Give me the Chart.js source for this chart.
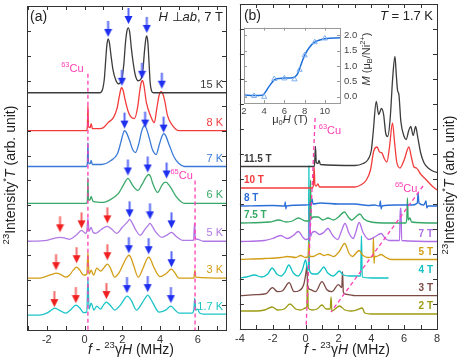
<!DOCTYPE html>
<html>
<head>
<meta charset="utf-8">
<script src="https://cdn.jsdelivr.net/npm/chart.js@4.4.1/dist/chart.umd.min.js"></script>
<style>
  html, body { margin: 0; padding: 0; background: #fff; }
  #wrap { position: relative; width: 463px; height: 364px; overflow: hidden; }
  canvas { position: absolute; }
</style>
</head>
<body>
<div id="wrap">
  <canvas id="ca" width="232" height="364" style="left:0;top:0;width:232px;height:364px"></canvas>
  <canvas id="cb" width="231" height="364" style="left:232px;top:0;width:231px;height:364px"></canvas>
  <canvas id="ci" width="148" height="110" style="left:236px;top:18px;width:148px;height:110px"></canvas>
</div>
<script>
// ---- panel (a): H perp ab, 7 T, temperature series ----
// each trace: [f - 23gH (MHz), intensity above its baseline]
var namesA = ["15 K", "8 K", "7 K", "6 K", "5 K", "3 K", "1.7 K"];
var baseA = [225, 187, 151, 114, 76, 39, 2];
var a15K = [[-3.05,0],[0.8,0],[0.95,3],[1.05,14],[1.12,32],[1.18,47],[1.25,54],[1.32,50],[1.4,38],[1.5,24],[1.65,13],[1.8,9],[1.95,12],[2.08,28],[2.17,50],[2.25,62],[2.32,65],[2.4,60],[2.48,45],[2.58,30],[2.7,17],[2.85,12],[3.0,14],[3.1,24],[3.18,42],[3.25,54],[3.3,57],[3.36,50],[3.42,30],[3.48,10],[3.55,2],[3.65,0],[7.5,0]];
var a8K = [[-3.05,0],[0.1,0],[0.15,4],[0.18,25],[0.21,4],[0.3,3],[0.35,7],[0.42,2],[0.8,2],[1.0,3],[1.25,8],[1.53,13],[1.72,22],[1.85,35],[1.93,42],[1.98,43],[2.05,40],[2.15,31],[2.3,20],[2.45,14],[2.65,12],[2.82,24],[2.93,40],[3.02,49],[3.08,50],[3.16,44],[3.28,28],[3.5,15],[3.7,8],[3.83,22],[3.95,35],[4.05,39],[4.15,37],[4.25,30],[4.4,15],[4.67,5],[5.0,0],[7.5,0]];
var a7K = [[-3.05,0],[0.1,0],[0.15,3],[0.18,24],[0.21,3],[0.3,3],[0.35,6],[0.42,2],[0.9,2],[1.4,6],[1.75,13],[1.92,24],[2.03,32],[2.12,36],[2.22,34],[2.39,26],[2.55,17],[2.7,14],[2.88,23],[3.02,35],[3.12,40],[3.2,41],[3.3,37],[3.44,28],[3.6,17],[3.8,12],[3.95,21],[4.1,30],[4.2,33],[4.3,31],[4.5,21],[4.76,9],[5.0,3],[5.3,0],[7.5,0]];
var a6K = [[-3.05,0],[0.1,0],[0.15,3],[0.18,26],[0.21,3],[0.3,4],[0.35,7],[0.45,2],[1.0,1],[1.3,3],[1.8,10],[2.05,18],[2.2,23],[2.3,25],[2.4,23],[2.55,18],[2.82,13],[3.05,19],[3.25,26],[3.4,29],[3.5,27],[3.6,21],[3.88,11],[4.1,18],[4.25,21],[4.35,21],[4.45,19],[4.6,15],[4.85,7],[5.1,2],[5.3,0],[7.5,0]];
var a5K = [[-3.05,0],[-2.0,1],[-1.6,3],[-1.3,4],[-1.0,3],[-0.8,2],[-0.45,6],[-0.15,11],[0.05,8],[0.12,10],[0.18,23],[0.24,10],[0.35,14],[0.45,9],[0.6,8],[0.9,12],[1.2,15],[1.45,12],[1.7,8],[2.0,14],[2.3,20],[2.39,22],[2.48,20],[2.7,12],[2.95,6],[3.2,12],[3.38,16],[3.47,18],[3.56,16],[3.75,10],[4.1,4],[4.35,6],[4.61,9],[4.85,5],[5.2,1],[5.78,1],[5.83,18],[5.88,3],[6.0,2],[6.3,0],[7.5,0]];
var a3K = [[-3.05,0],[-2.4,0],[-2.0,2],[-1.7,4],[-1.5,5],[-1.3,4],[-1.0,1],[-0.8,3],[-0.6,8],[-0.42,11],[-0.25,8],[-0.05,3],[0.12,4],[0.18,26],[0.24,4],[0.35,8],[0.48,3],[0.65,10],[0.85,7],[1.05,11],[1.21,14],[1.35,11],[1.6,1],[1.85,6],[2.1,16],[2.25,21],[2.35,23],[2.45,21],[2.6,13],[2.85,1],[3.1,10],[3.3,19],[3.4,21],[3.5,19],[3.65,12],[4.0,1.5],[4.35,5],[4.61,9],[4.8,5],[5.0,0],[5.8,0],[5.85,8],[5.9,1],[7.5,0]];
var a17K = [[-3.05,0],[-2.4,0],[-2.0,2],[-1.75,5],[-1.58,7],[-1.35,5],[-1.0,2],[-0.75,5],[-0.46,10],[-0.25,7],[-0.05,2.5],[0.12,3],[0.18,37],[0.24,6],[0.35,12],[0.5,5],[0.65,9],[0.85,6],[1.0,10],[1.16,13],[1.35,10],[1.6,5],[1.9,10],[2.15,17],[2.25,19],[2.35,18],[2.5,14],[2.75,5],[3.05,12],[3.25,18],[3.35,20],[3.45,18],[3.6,13],[3.95,3],[4.3,5],[4.58,9],[4.8,5],[5.0,2],[5.7,2],[5.8,6],[5.84,17],[5.9,5],[6.0,6],[6.1,2],[6.3,1],[7.5,1]];
var dataA = [a15K, a8K, a7K, a6K, a5K, a3K, a17K];
var colorsA = ["#3c3c3c", "#f23c3c", "#3a7ad6", "#3aa868", "#b07ae6", "#d29e16", "#1cc4c8"];
// arrow tips [x, y]
var blueArrowsA = [[1.25,281],[2.33,294],[3.3,285],[1.98,232],[3.05,239],[4.1,229],[2.12,189],[3.21,190],[4.19,185],[2.3,142],[3.35,145],[4.35,139],[2.39,100],[3.47,98],[4.61,89],[2.35,64],[3.4,63],[4.61,50],[2.25,24],[3.35,25],[4.58,14]];
var redArrowsA = [[-1.3,85],[-0.16,89],[1.21,94],[-1.51,47],[-0.42,54],[1.21,57],[-1.6,10],[-0.46,14],[1.16,18]];
var cu63A = [[0.18,244],[0.18,-13]];
var cu65A = [[5.86,137],[5.86,-13]];

// ---- panel (b): T = 1.7 K, field series ----
var namesB = ["11.5 T", "10 T", "8 T", "7.5 T", "7 T", "5 T", "4 T", "3 T", "2 T"];
var baseB = [150.5, 129, 111, 94, 75.5, 57.5, 39, 21.3, 3];
var b115T = [[-4,0],[0.5,0],[0.55,3],[0.6,20],[0.65,4],[0.75,3],[0.82,6],[0.9,2],[3.0,1],[3.5,3],[3.8,7],[4.0,16],[4.12,35],[4.3,65],[4.45,52],[4.62,58],[4.75,52],[4.88,33],[5.0,30],[5.15,48],[5.3,88],[5.44,110],[5.52,92],[5.6,76],[5.68,72],[5.8,45],[6.0,30],[6.12,27],[6.28,36],[6.4,40],[6.55,31],[6.7,40],[6.82,30],[7.0,14],[7.2,4],[7.5,-2],[7.8,-5],[8,-6]];
var b10T = [[-4,0],[0.42,0],[0.47,3],[0.52,21],[0.57,3],[0.65,2],[0.75,4],[0.85,1],[3.0,1],[3.35,3],[3.7,8],[3.95,18],[4.15,37],[4.35,41],[4.5,36],[4.65,35],[4.8,29],[4.95,26],[5.1,40],[5.29,65],[5.42,45],[5.55,26],[5.75,20],[6.0,28],[6.29,41],[6.45,30],[6.6,21],[6.75,20],[7.0,14],[7.35,8],[7.7,2],[8,-2]];
var b8T = [[-4,0],[-2,0.5],[-1.28,0],[-1.24,4],[-1.2,-3],[-1.16,0],[0,1],[0.35,2],[0.4,7],[0.45,2],[0.9,3],[2,2],[3,2],[3.8,0.5],[4.2,1],[4.5,0],[4.55,5],[4.6,-3],[4.65,0],[5.5,1],[6.5,1],[6.8,3],[6.85,13],[6.9,3],[7.2,1],[7.33,5],[7.38,-2],[7.45,0],[8,0]];
var b75T = [[-4,0],[-2.2,1],[-1.63,3],[-1.2,1],[-0.8,2],[-0.44,5],[0,2],[0.22,2],[0.26,3],[0.3,43],[0.34,4],[0.45,6],[0.76,6],[1.05,3],[1.36,5],[1.7,3],[2.0,6],[2.36,11],[2.6,6],[2.8,3],[3.05,6],[3.3,9],[3.55,4],[4.0,1],[5,0],[6.1,0],[6.16,4],[6.2,25],[6.25,3],[6.35,5],[6.45,1],[8,0]];
var b7T = [[-4,0],[-2.5,1],[-2.0,3],[-1.53,6],[-1.1,3],[-0.75,6],[-0.44,10],[-0.15,4],[0,2],[0.2,3],[0.25,40],[0.3,5],[0.4,9],[0.56,10],[0.85,7],[1.1,9],[1.36,13],[1.65,6],[1.96,2],[2.15,9],[2.4,18],[2.65,8],[2.9,3],[3.05,9],[3.26,19],[3.5,9],[3.86,2],[4.25,5],[4.6,8],[4.85,3],[5.1,1],[5.72,1],[5.76,33],[5.81,33],[5.85,1],[8,0]];
var b5T = [[-4,0],[-2.5,1],[-1.5,2],[-1.1,3],[-0.6,2],[-0.3,4],[0,2],[0.15,3],[0.2,18],[0.25,3],[0.45,3],[0.86,6],[1.1,4],[1.36,5],[1.7,3],[2.05,8],[2.38,16],[2.65,6],[2.85,3],[3.05,6],[3.25,9],[3.5,4],[3.8,2],[4.1,3],[4.13,22],[4.17,-4],[4.2,3],[4.3,3],[4.6,5],[4.9,2],[5.2,0],[8,0]];
var b4T = [[-4,0],[-3.6,1],[-3.1,3],[-2.7,1],[-2.3,4],[-2.04,10],[-1.75,4],[-1.5,2],[-1.25,6],[-1.02,13],[-0.75,5],[-0.45,2],[-0.2,8],[0.0,18],[0.12,8],[0.17,8],[0.2,112],[0.23,8],[0.45,4],[0.7,4],[0.9,7],[1.1,11],[1.35,5],[1.7,2],[1.85,4],[2.05,7],[2.3,3],[2.7,2],[3.0,2],[3.35,2],[3.4,42],[3.45,1],[4.0,0],[5.05,0]];
var b3T = [[-4,0],[-3,1],[-2.4,2],[-2.02,8],[-1.7,4],[-1.4,5],[-1.0,13],[-0.7,4],[-0.4,5],[-0.1,12],[0.02,23],[0.08,30],[0.12,10],[0.3,6],[0.6,4],[1.0,14],[1.3,6],[1.6,4],[2.0,11],[2.2,8],[2.25,24],[2.3,3],[2.6,1],[3,0],[8,0]];
var b2T = [[-4,3],[-3,3],[-2.5,4],[-2.04,7],[-1.7,4],[-1.3,5],[-0.95,10],[-0.6,5],[-0.3,4],[0.0,6],[0.08,8],[0.1,29],[0.13,30],[0.16,6],[0.4,4],[0.7,5],[1.0,9],[1.25,5],[1.5,5],[1.55,17],[1.6,3],[1.8,5],[2.06,8],[2.4,4],[2.76,3],[3.1,4],[3.45,6],[3.6,1],[4,0],[8,0]];
var dataB = [b115T, b10T, b8T, b75T, b7T, b5T, b4T, b3T, b2T];
var colorsB = ["#3c3c3c", "#f23c3c", "#2b6fd8", "#34a865", "#b06ee6", "#d29e16", "#12c2c4", "#7b4a44", "#9c9a12"];
var labelLeftB = [true, true, true, true, false, false, false, false, false];
var cu63B = [[0.58,199],[0.03,-10]];
var cu65B = [[7.15,131],[1.55,5]];

// ---- inset: magnetization M (muB/Ni2+) vs mu0H (T) ----
var fieldM = [2, 3, 4, 5, 6, 7, 7.5, 8, 9, 10];
var momentM = [0.05, 0.03, 0.0, 0.58, 0.6, 0.57, 0.88, 1.35, 1.78, 1.9];
var fieldFit = [2, 3, 3.8, 4.5, 5, 5.5, 6, 6.8, 7.3, 7.7, 8, 8.5, 9, 10, 11.5];
var momentFit = [0.06, 0.04, 0.05, 0.35, 0.55, 0.6, 0.61, 0.62, 0.75, 1.1, 1.35, 1.62, 1.78, 1.89, 1.92];

var PINK = "#ff3db4";
var FONT = '"Liberation Sans", Arial, sans-serif';

function fontFor(p, size) {
  var s = (p.sup || p.sub) ? size * 0.68 : size;
  return (p.it ? "italic " : "") + (p.b ? "bold " : "") + s + "px " + FONT;
}

// draw a run of text parts (italic / superscript / subscript)
function richText(ctx, parts, x, y, size, align, color) {
  var w = 0;
  parts.forEach(function (p) {
    ctx.font = fontFor(p, size);
    p.w = ctx.measureText(p.t).width;
    w += p.w;
  });
  var cx = align === "center" ? x - w / 2 : align === "right" ? x - w : x;
  ctx.textAlign = "left";
  ctx.textBaseline = "middle";
  ctx.fillStyle = color;
  parts.forEach(function (p) {
    ctx.font = fontFor(p, size);
    var dy = p.sup ? -size * 0.35 : p.sub ? size * 0.3 : 0;
    ctx.fillText(p.t, cx, y + dy);
    cx += p.w;
  });
}

function rotatedText(ctx, parts, x, y, size, color) {
  ctx.save();
  ctx.translate(x, y);
  ctx.rotate(-Math.PI / 2);
  richText(ctx, parts, 0, 0, size, "center", color);
  ctx.restore();
}

// box round the plot area, with ticks pointing inward on all four sides
function drawFrame(chart, len, color) {
  var ctx = chart.ctx, a = chart.chartArea, x = chart.scales.x, y = chart.scales.y;
  ctx.save();
  ctx.strokeStyle = color;
  ctx.lineWidth = 1;
  ctx.beginPath();
  x.ticks.forEach(function (t) {
    var px = Math.round(x.getPixelForValue(t.value)) + 0.5;
    ctx.moveTo(px, a.bottom); ctx.lineTo(px, a.bottom - len);
    ctx.moveTo(px, a.top); ctx.lineTo(px, a.top + len);
  });
  y.ticks.forEach(function (t) {
    var py = Math.round(y.getPixelForValue(t.value)) + 0.5;
    ctx.moveTo(a.left, py); ctx.lineTo(a.left + len, py);
    ctx.moveTo(a.right, py); ctx.lineTo(a.right - len, py);
  });
  ctx.stroke();
  ctx.strokeRect(Math.round(a.left) + 0.5, Math.round(a.top) + 0.5, Math.round(a.right - a.left), Math.round(a.bottom - a.top));
  ctx.restore();
}

function makeArrow(head, shaft) {
  var c = document.createElement("canvas");
  c.width = 9; c.height = 34;
  var g = c.getContext("2d");
  g.fillStyle = shaft;
  g.fillRect(3.5, 1, 2, 9);
  g.fillStyle = head;
  g.beginPath();
  g.moveTo(0.5, 9); g.lineTo(8.5, 9); g.lineTo(4.5, 17);
  g.closePath();
  g.fill();
  return c;
}

function toXY(arr) {
  return arr.map(function (p) { return { x: p[0], y: p[1] }; });
}

function traceSets(base, data, colors) {
  return data.map(function (d, i) {
    return {
      data: d.map(function (p) { return { x: p[0], y: base[i] + p[1] }; }),
      borderColor: colors[i],
      borderWidth: 1.3,
      pointRadius: 0,
      showLine: true,
      cubicInterpolationMode: "monotone",
    };
  });
}

function dashSet(arr) {
  return { data: toXY(arr), borderColor: PINK, borderWidth: 1.3, borderDash: [4, 3], pointRadius: 0, showLine: true };
}

function arrowSet(arr, img) {
  return { data: toXY(arr), pointStyle: img, pointRadius: 5, showLine: false };
}

function xTitle() {
  return [{ t: "f", it: true }, { t: " - " }, { t: "23", sup: true }, { t: "γ" }, { t: "H", it: true }, { t: " (MHz)" }];
}

function yTitle() {
  return [{ t: "23", sup: true }, { t: "Intensity" }, { t: "*", sup: true }, { t: "T", it: true }, { t: " (arb. unit)" }];
}

function cuLabel(n) {
  return [{ t: n, sup: true }, { t: "Cu" }];
}

function baseOptions(xmin, xmax, ymin, ymax, xAxisHeight, pad) {
  return {
    responsive: false,
    animation: false,
    events: [],
    layout: { padding: pad },
    plugins: { legend: { display: false }, tooltip: { enabled: false } },
    scales: {
      x: {
        type: "linear", min: xmin, max: xmax,
        grid: { display: false, drawTicks: false },
        border: { display: false },
        afterFit: function (s) { s.height = xAxisHeight; },
        ticks: {
          stepSize: 1, includeBounds: false, autoSkip: false, maxRotation: 0, padding: 3,
          color: "#333", font: { family: FONT, size: 11 },
          callback: function (v) { return v % 2 === 0 ? String(v) : ""; },
        },
      },
      y: {
        type: "linear", min: ymin, max: ymax,
        grid: { display: false, drawTicks: false },
        border: { display: false },
        afterFit: function (s) { s.width = 0; },
        ticks: { display: false, stepSize: 25, includeBounds: false },
      },
    },
  };
}

function init() {
  var blueArrow = makeArrow("#1f2ff0", "#5a6af5");
  var redArrow = makeArrow("#f02020", "#f56a6a");

  // panel (a)
  var optsA = baseOptions(-3.05, 7.5, -13, 312, 34, { left: 27, right: 4, top: 5, bottom: 0 });
  new Chart(document.getElementById("ca"), {
    type: "scatter",
    data: {
      datasets: [arrowSet(blueArrowsA, blueArrow), arrowSet(redArrowsA, redArrow), dashSet(cu63A), dashSet(cu65A)]
        .concat(traceSets(baseA, dataA, colorsA)),
    },
    options: optsA,
    plugins: [{
      id: "decorA",
      afterDraw: function (chart) {
        var ctx = chart.ctx, a = chart.chartArea, x = chart.scales.x, y = chart.scales.y;
        drawFrame(chart, 4, "#333");
        namesA.forEach(function (n, i) {
          richText(ctx, [{ t: n }], a.right - 3, y.getPixelForValue(baseA[i] + 8), 11, "right", colorsA[i]);
        });
        richText(ctx, cuLabel("63"), x.getPixelForValue(-0.05), y.getPixelForValue(249), 11, "right", PINK);
        richText(ctx, cuLabel("65"), x.getPixelForValue(5.74), y.getPixelForValue(142), 11, "right", PINK);
        richText(ctx, [{ t: "(a)" }], a.left + 3, a.top + 11, 14, "left", "#222");
        richText(ctx, [{ t: "H", it: true }, { t: " ⊥" }, { t: "ab", it: true }, { t: ", 7 T" }], a.right - 3, a.top + 11, 13, "right", "#222");
        richText(ctx, xTitle(), 131, 350, 14, "center", "#222");
        rotatedText(ctx, yTitle(), 11, 175, 14, "#222");
      },
    }],
  });

  // panel (b)
  var optsB = baseOptions(-4, 8, -12, 313, 35, { left: 4, right: 26, top: 4, bottom: 0 });
  new Chart(document.getElementById("cb"), {
    type: "scatter",
    data: {
      datasets: [dashSet(cu63B), dashSet(cu65B)].concat(traceSets(baseB, dataB, colorsB)),
    },
    options: optsB,
    plugins: [{
      id: "decorB",
      afterDraw: function (chart) {
        var ctx = chart.ctx, a = chart.chartArea, x = chart.scales.x, y = chart.scales.y;
        drawFrame(chart, 4, "#333");
        namesB.forEach(function (n, i) {
          var py = y.getPixelForValue(baseB[i] + 7.5);
          if (labelLeftB[i]) {
            richText(ctx, [{ t: n, b: true }], a.left + 4, py, 10, "left", colorsB[i]);
          } else {
            richText(ctx, [{ t: n, b: true }], a.right - 4, py, 10, "right", colorsB[i]);
          }
        });
        richText(ctx, cuLabel("63"), x.getPixelForValue(0.8), y.getPixelForValue(186), 11, "left", PINK);
        richText(ctx, cuLabel("65"), x.getPixelForValue(6.8), y.getPixelForValue(128), 11, "right", PINK);
        richText(ctx, [{ t: "(b)" }], a.left + 4, a.top + 12, 14, "left", "#222");
        richText(ctx, [{ t: "T", it: true }, { t: " = 1.7 K" }], a.right - 4, a.top + 12, 13, "right", "#222");
        richText(ctx, xTitle(), 115, 350, 14, "center", "#222");
        rotatedText(ctx, yTitle(), 218, 185, 14, "#222");
      },
    }],
  });

  // inset
  new Chart(document.getElementById("ci"), {
    type: "scatter",
    data: {
      datasets: [
        { data: fieldM.map(function (v, i) { return { x: v, y: momentM[i] }; }),
          pointStyle: "triangle", pointRadius: 3, borderWidth: 1, borderColor: "#7fb0ef", backgroundColor: "rgba(255,255,255,0)", showLine: false },
        { data: fieldFit.map(function (v, i) { return { x: v, y: momentFit[i] }; }),
          borderColor: "#1e6fd9", borderWidth: 1.5, pointRadius: 0, showLine: true, cubicInterpolationMode: "monotone" },
      ],
    },
    options: {
      responsive: false,
      animation: false,
      events: [],
      layout: { padding: { left: 8, right: 0, top: 5, bottom: 0 } },
      plugins: { legend: { display: false }, tooltip: { enabled: false } },
      scales: {
        x: {
          type: "linear", min: 2, max: 11.5,
          grid: { display: false, drawTicks: false },
          border: { display: false },
          afterFit: function (s) { s.height = 25; },
          ticks: { stepSize: 2, includeBounds: false, padding: 3, maxRotation: 0, color: "#444", font: { family: FONT, size: 9.5 } },
        },
        y: {
          type: "linear", position: "right", min: -0.2, max: 2.25,
          grid: { display: false, drawTicks: false },
          border: { display: false },
          afterFit: function (s) { s.width = 44; },
          ticks: { stepSize: 0.5, includeBounds: false, padding: 4, color: "#444", font: { family: FONT, size: 9.5 },
            callback: function (v) { return v.toFixed(1); } },
        },
      },
    },
    plugins: [{
      id: "decorI",
      beforeDraw: function (chart) {
        var ctx = chart.ctx, a = chart.chartArea;
        ctx.save();
        ctx.fillStyle = "#fff";
        ctx.fillRect(a.left, a.top, a.right - a.left, a.bottom - a.top);
        ctx.restore();
      },
      afterDraw: function (chart) {
        var ctx = chart.ctx;
        drawFrame(chart, 3, "#999");
        richText(ctx, [{ t: "μ" }, { t: "0", sub: true }, { t: "H", it: true }, { t: " (T)" }], 54, 102, 11, "center", "#333");
        rotatedText(ctx, [{ t: "M", it: true }, { t: " (μ" }, { t: "B", sub: true }, { t: "/Ni" }, { t: "2+", sup: true }, { t: ")" }], 131, 41, 11, "#333");
      },
    }],
  });
}

if (document.readyState === "loading") {
  document.addEventListener("DOMContentLoaded", init);
} else {
  init();
}
</script>
</body>
</html>
